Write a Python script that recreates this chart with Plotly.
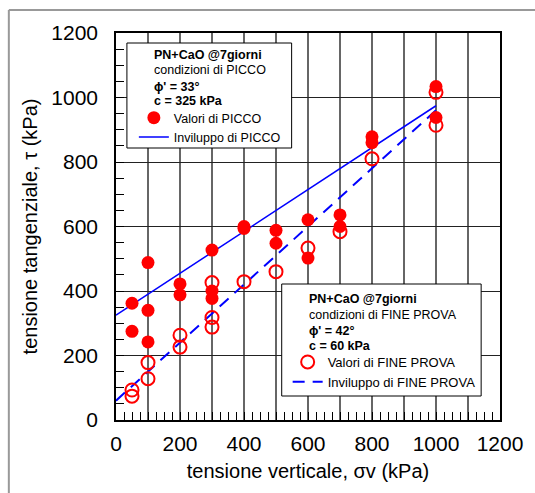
import math
import plotly.graph_objects as go

# ---------------- data ----------------
picco_x = [50, 50, 100, 100, 100, 200, 200, 300, 300, 300, 400, 400,
           500, 500, 600, 600, 700, 700, 800, 800, 1000, 1000]
picco_y = [362, 275, 488, 340, 242, 422, 388, 527, 400, 377, 600, 594,
           588, 548, 621, 502, 636, 600, 878, 860, 1034, 938]

fine_x = [50, 50, 100, 100, 200, 200, 300, 300, 300, 400, 500, 600,
          700, 800, 1000, 1000]
fine_y = [93, 74, 178, 128, 263, 226, 426, 318, 288, 429, 460, 533,
          584, 810, 1016, 914]

phi_picco, c_picco = 33, 325
phi_fine, c_fine = 42, 60
env_x = [0, 1000]
env_picco = [c_picco + x * math.tan(math.radians(phi_picco)) for x in env_x]
env_fine = [c_fine + x * math.tan(math.radians(phi_fine)) for x in env_x]

x_ticks = list(range(0, 1201, 100))
x_ticktext = [str(v) if v % 200 == 0 else "" for v in x_ticks]
y_ticks = list(range(0, 1201, 200))

FONT = "Liberation Sans, Arial, sans-serif"

# ---------------- layout helpers ----------------
W, H = 535, 493
L, R, T, B = 116, 503, 33, 420


def px(x):
    return (x - L) / (R - L)


def py(y):
    return (B - y) / (B - T)


fig = go.Figure()

fig.add_trace(go.Scatter(x=env_x, y=env_picco, mode="lines",
                         line=dict(color="#0000FF", width=1.5),
                         name="Inviluppo di PICCO", legend="legend", legendrank=2))
fig.add_trace(go.Scatter(x=env_x, y=env_fine, mode="lines",
                         line=dict(color="#0000FF", width=2, dash="12px,8px"),
                         name="Inviluppo di FINE PROVA", legend="legend2", legendrank=2))
fig.add_trace(go.Scatter(x=fine_x, y=fine_y, mode="markers",
                         marker=dict(symbol="circle-open", size=13, color="#FF0000",
                                     line=dict(width=2, color="#FF0000")),
                         name="Valori di FINE PROVA", legend="legend2", legendrank=1))
fig.add_trace(go.Scatter(x=picco_x, y=picco_y, mode="markers",
                         marker=dict(symbol="circle", size=13, color="#FF0000"),
                         name="Valori di PICCO", legend="legend", legendrank=1))

shapes = [
    # outer gray frame (top and left)
    dict(type="line", xref="paper", yref="paper", x0=px(8), x1=px(540), y0=py(10), y1=py(10),
         line=dict(color="#999999", width=2)),
    dict(type="line", xref="paper", yref="paper", x0=px(8), x1=px(8), y0=py(10), y1=py(500),
         line=dict(color="#999999", width=2)),
    # legend boxes
    dict(type="rect", xref="paper", yref="paper", x0=px(127), x1=px(293), y0=py(148), y1=py(43),
         line=dict(color="black", width=1), fillcolor="white", layer="above"),
    dict(type="rect", xref="paper", yref="paper", x0=px(283), x1=px(484), y0=py(396), y1=py(284),
         line=dict(color="black", width=1), fillcolor="white", layer="above"),
]

annotations = []
hdr1 = [("<b>PN+CaO @7giorni</b>", 54.5), ("condizioni di PICCO", 70.5),
        ("<b>ϕ' = 33°</b>", 86.5), ("<b>c = 325 kPa</b>", 101)]
for t, yy in hdr1:
    annotations.append(dict(text=t, xref="paper", yref="paper", x=px(152), y=py(yy),
                            xanchor="left", yanchor="middle", showarrow=False,
                            font=dict(family=FONT, size=12.5, color="black")))
hdr2 = [("<b>PN+CaO @7giorni</b>", 298.5), ("condizioni di FINE PROVA", 314.5),
        ("<b>ϕ' = 42°</b>", 330.5), ("<b>c = 60 kPa</b>", 346)]
for t, yy in hdr2:
    annotations.append(dict(text=t, xref="paper", yref="paper", x=px(308), y=py(yy),
                            xanchor="left", yanchor="middle", showarrow=False,
                            font=dict(family=FONT, size=12.5, color="black")))

fig.update_layout(
    width=W, height=H,
    margin=dict(l=L, r=W - R, t=T, b=H - B),
    paper_bgcolor="white", plot_bgcolor="white",
    font=dict(family=FONT, color="black"),
    shapes=shapes, annotations=annotations,
    legend=dict(x=px(134), y=py(103), xanchor="left", yanchor="top",
                bgcolor="rgba(0,0,0,0)", borderwidth=0,
                font=dict(family=FONT, size=12.5, color="black"),
                tracegroupgap=0, itemwidth=30),
    legend2=dict(x=px(289), y=py(347), xanchor="left", yanchor="top",
                 bgcolor="rgba(0,0,0,0)", borderwidth=0,
                 font=dict(family=FONT, size=13, color="black"),
                 tracegroupgap=0, itemwidth=30),
    xaxis=dict(range=[0, 1200], tickmode="array", tickvals=x_ticks, ticktext=x_ticktext,
               ticks="inside", ticklen=8, tickcolor="black", tickwidth=1,
               showgrid=True, gridcolor="#666666", gridwidth=1.5,
               showline=True, linecolor="black", linewidth=1.5, mirror=True,
               zeroline=False,
               minor=dict(dtick=25, ticks="inside", ticklen=8, tickcolor="black",
                          tickwidth=1, showgrid=False),
               tickfont=dict(family=FONT, size=21, color="black"),
               ticklabelstandoff=4,
               title=dict(text="tensione verticale, σv (kPa)",
                          font=dict(family=FONT, size=20, color="black"), standoff=10)),
    yaxis=dict(range=[0, 1200], tickmode="array", tickvals=y_ticks,
               ticks="inside", ticklen=8, tickcolor="black", tickwidth=1,
               showgrid=True, gridcolor="#222222", gridwidth=1.2,
               showline=True, linecolor="black", linewidth=1.5, mirror=True,
               zeroline=False,
               minor=dict(dtick=50, ticks="inside", ticklen=8, tickcolor="black",
                          tickwidth=1, showgrid=False),
               tickfont=dict(family=FONT, size=21, color="black"),
               ticklabelstandoff=12,
               title=dict(text="tensione tangenziale, τ (kPa)",
                          font=dict(family=FONT, size=20, color="black"), standoff=8)),
)

fig.write_html("out.html")
